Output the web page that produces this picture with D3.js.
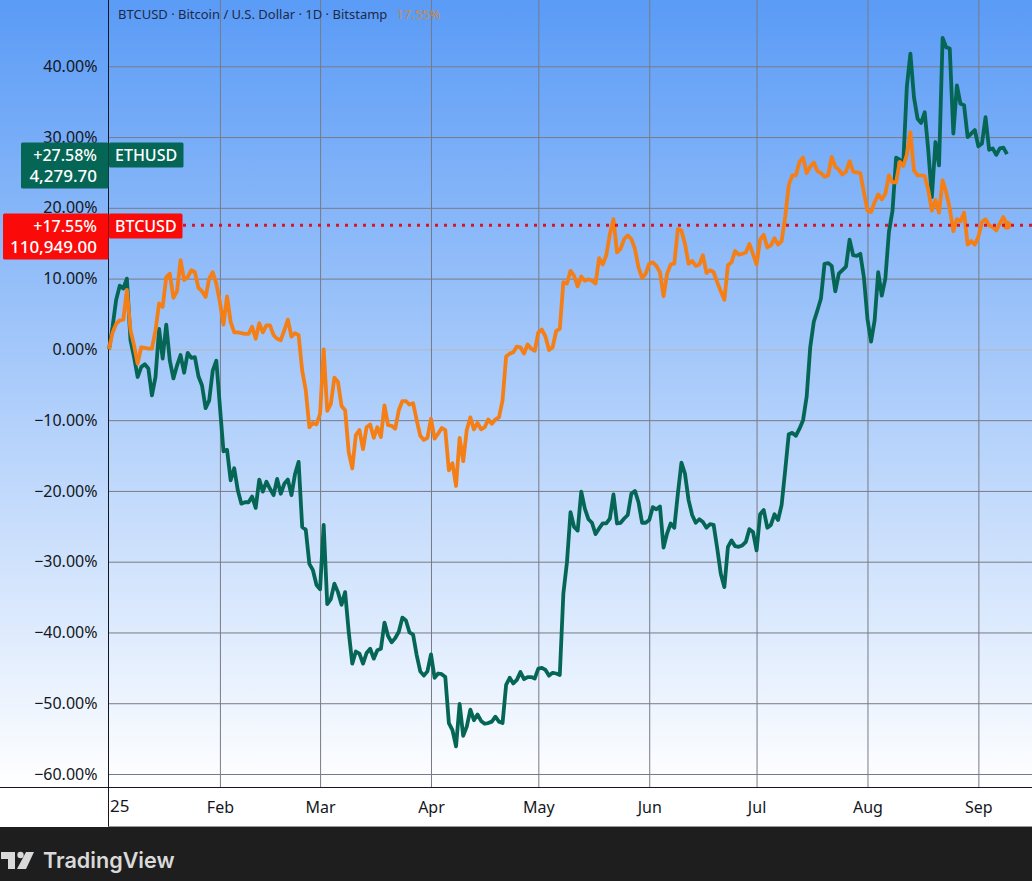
<!DOCTYPE html>
<html>
<head>
<meta charset="utf-8">
<script src="https://cdn.jsdelivr.net/npm/d3@7"></script>
<style>
    html, body { margin: 0; padding: 0; background: #fff; overflow: hidden; }
    svg { display: block; }
    text { font-family: "Noto Sans", sans-serif; }
    .axis text { font-size: 16px; fill: #131722; }
    .axis .domain { display: none; }
</style>
</head>
<body>
<div class="chart"></div>
<script>
/* global d3 */

// daily % change since Jan 1 2025
const btcValues = [
    0, 2.4, 3.6, 4.1, 4.2, 8.4, 2.7, 0.6, -2.0, 0.3, 0.2, 0.1, 0.1, 2.7, 6.5, 6.0, 10.2, 10.7, 7.3, 8.2,
    12.6, 9.8, 10.2, 11.2, 10.9, 8.7, 8.2, 7.4, 10.0, 10.9, 9.3, 6.7, 3.5, 7.5, 3.9, 2.4, 2.4, 2.3, 2.2, 2.2,
    3.2, 1.5, 3.7, 2.4, 3.4, 3.4, 2.0, 1.5, 1.3, 2.7, 4.2, 1.8, 2.3, 2.0, -3.0, -5.8, -11.0, -10.4, -10.6, -9.1,
    0, -8.7, -7.7, -4.0, -4.6, -8.0, -8.6, -14.5, -16.8, -12.1, -11.4, -14.1, -11.0, -10.6, -12.5, -11.0, -12.4, -7.9, -10.7, -10.8,
    -11.2, -8.6, -7.3, -7.3, -7.8, -7.6, -10.0, -12.2, -12.8, -12.5, -9.8, -12.6, -11.9, -11.1, -11.4, -17.1, -16.1, -19.3, -12.5, -15.8,
    -11.4, -9.6, -11.3, -10.4, -11.3, -11.0, -9.9, -10.5, -9.9, -9.6, -7.2, -1.0, -0.6, -0.4, 0.4, 0.3, -0.6, 0.7, 0.1, -0.2,
    2.4, 2.8, 1.8, -0.1, 0.3, 2.6, 2.9, 9.5, 9.3, 11.1, 10.4, 8.9, 10.3, 9.7, 9.9, 9.7, 9.3, 12.9, 12.0, 13.3,
    16.3, 18.4, 13.7, 14.2, 15.6, 16.1, 15.6, 14.2, 11.6, 10.1, 10.7, 12.1, 12.3, 11.8, 10.9, 7.5, 10.7, 12.0, 12.1, 17.0,
    16.8, 14.9, 12.1, 12.5, 11.8, 12.0, 13.3, 10.8, 11.2, 10.9, 9.5, 8.2, 7.0, 11.9, 12.3, 13.9, 13.4, 13.5, 13.7, 14.9,
    13.5, 12.0, 15.5, 16.2, 14.4, 14.7, 15.7, 14.8, 15.3, 18.7, 23.2, 24.6, 24.6, 26.5, 27.1, 24.9, 25.8, 26.4, 25.2, 24.9,
    24.4, 24.6, 27.2, 25.8, 25.4, 24.7, 25.1, 26.6, 25.1, 25.0, 24.9, 22.2, 19.6, 19.4, 20.8, 21.9, 21.2, 22.0, 24.6, 23.6,
    23.6, 26.5, 25.9, 27.5, 30.7, 25.3, 24.6, 24.6, 24.5, 22.5, 19.6, 21.1, 19.3, 23.9, 22.2, 19.9, 16.7, 18.4, 18.1, 19.3,
    14.8, 15.3, 14.8, 15.9, 18.0, 18.4, 17.5, 17.3, 16.8, 17.8, 18.7, 17.55
]

const ethValues = [
    0, 3.2, 7.0, 9.0, 8.6, 10.0, 1.3, -1.1, -3.9, -2.5, -2.1, -2.7, -6.5, -3.9, 2.9, -1.3, 3.5, -1.6, -4.1, -2.3,
    -0.8, -3.3, -0.5, -1.2, -1.1, -3.8, -5.1, -8.3, -7.2, -3.0, -1.6, -8.1, -14.4, -14.2, -18.5, -16.8, -19.9, -21.8, -21.6, -21.6,
    -20.8, -22.4, -18.4, -20.1, -18.7, -19.7, -20.6, -18.3, -20.4, -19.0, -18.4, -20.6, -17.6, -15.9, -25.1, -25.5, -30.3, -31.2, -33.3, -33.9,
    -24.8, -36.0, -35.3, -33.1, -34.3, -36.1, -34.3, -39.9, -44.4, -42.7, -43.0, -44.4, -42.9, -42.3, -43.7, -42.5, -42.3, -38.6, -40.5, -41.4,
    -40.8, -39.9, -37.9, -38.3, -40.0, -40.3, -43.2, -45.5, -46.1, -45.5, -43.1, -46.4, -45.8, -45.9, -46.3, -52.8, -53.8, -56.1, -50.1, -54.6,
    -53.3, -50.9, -52.4, -51.6, -52.5, -52.9, -52.8, -52.6, -51.9, -52.6, -52.8, -47.4, -46.4, -47.2, -46.7, -45.6, -46.6, -46.3, -46.3, -46.5,
    -45.1, -45.0, -45.3, -46.1, -45.7, -45.8, -46.0, -34.5, -30.1, -23.0, -25.1, -25.6, -20.1, -22.5, -24.0, -24.5, -26.1, -25.3, -24.6, -24.6,
    -23.9, -20.5, -24.6, -24.5, -23.9, -23.4, -20.4, -20.0, -21.6, -24.5, -24.5, -24.1, -22.3, -22.6, -22.2, -28.0, -26.0, -24.6, -25.2, -20.4,
    -16.0, -17.6, -21.3, -23.4, -24.5, -24.0, -24.4, -25.2, -24.7, -24.8, -28.1, -31.7, -33.6, -27.9, -27.0, -27.8, -27.9, -27.7, -27.2, -25.4,
    -25.8, -28.4, -23.3, -22.7, -25.2, -24.8, -23.3, -24.1, -22.0, -17.1, -12.0, -11.8, -12.2, -11.2, -10.0, -6.7, 0.3, 3.9, 5.5, 7.2,
    12.1, 12.2, 11.8, 8.2, 10.7, 11.2, 11.7, 15.5, 13.3, 13.2, 13.5, 10.2, 4.3, 1.1, 4.1, 10.9, 7.6, 10.0, 16.6, 19.6,
    27.1, 26.8, 26.2, 37.1, 41.8, 35.6, 32.6, 32.0, 33.5, 28.1, 21.5, 29.3, 26.0, 44.0, 42.7, 42.5, 30.5, 37.3, 34.7, 34.5,
    30.0, 30.5, 31.0, 28.7, 29.1, 32.8, 28.2, 28.4, 27.5, 28.4, 28.5, 27.58
]

const startDate = new Date(2025, 0, 1)
const pctTicks = [40, 30, 20, 10, 0, -10, -20, -30, -40, -50, -60]
const monthStarts = [[2025, 1], [2025, 2], [2025, 3], [2025, 4], [2025, 5], [2025, 6], [2025, 7], [2025, 8]]
const monthLabels = ['Feb', 'Mar', 'Apr', 'May', 'Jun', 'Jul', 'Aug', 'Sep']
const btcLabel = { name: 'BTCUSD', pct: '+17.55%', price: '110,949.00' }
const ethLabel = { name: 'ETHUSD', pct: '+27.58%', price: '4,279.70' }

const green = '#056656'
const orange = '#f57f17'

const width = 1032
const height = 881
const margins = { left: 108.5, bottom: 787.5, footer: 827 }

const svg = d3.select('.chart')
    .append('svg')
    .attr('width', width)
    .attr('height', height)

const defs = svg.append('defs')
const grad = defs.append('linearGradient')
    .attr('id', 'bg')
    .attr('x1', 0).attr('y1', 0).attr('x2', 0).attr('y2', 1)
grad.append('stop').attr('offset', '0%').attr('stop-color', '#5a9bf6')
grad.append('stop').attr('offset', '100%').attr('stop-color', '#ffffff')

svg.append('rect')
    .attr('width', width)
    .attr('height', margins.bottom)
    .attr('fill', 'url(#bg)')

// scales
const toDates = values => values.map((v, i) => ({ date: d3.timeDay.offset(startDate, i), value: v }))
const btcData = toDates(btcValues)
const ethData = toDates(ethValues)

const xScale = d3.scaleTime()
    .domain([startDate, new Date(2025, 8, 9)])
    .range([109, 1007])

const yScale = d3.scaleLinear()
    .domain([-60, 40])
    .range([774, 66.3])

// y axis and grid
const yAxis = svg.append('g')
    .attr('class', 'axis axis__y')
    .attr('transform', `translate(${margins.left}, 0)`)
    .call(
        d3.axisLeft(yScale)
        .tickValues(pctTicks)
        .tickSize(-(width - margins.left))
        .tickPadding(11)
        .tickFormat(d => `${d < 0 ? '\u2212' + Math.abs(d) : d}.00%`)
    )
yAxis.selectAll('.tick line')
    .attr('stroke', d => d === 0 ? '#b4b7c0' : '#787b86')
    .attr('stroke-width', 1)

// x axis and grid
const monthDates = monthStarts.map(d => new Date(d[0], d[1], 1))
const xAxis = svg.append('g')
    .attr('class', 'axis axis__x')
    .attr('transform', `translate(0, ${margins.bottom})`)
    .call(
        d3.axisBottom(xScale)
        .tickValues(monthDates)
        .tickSize(-margins.bottom)
        .tickPadding(12)
        .tickFormat((d, i) => monthLabels[i])
    )
xAxis.selectAll('.tick line')
    .attr('stroke', '#787b86')
    .attr('stroke-width', 1)
xAxis.selectAll('.tick text').attr('dy', '0.85em')

svg.append('text')
    .attr('x', 110)
    .attr('y', 812)
    .attr('font-size', 17)
    .attr('fill', '#131722')
    .text('25')

// chart frame
svg.append('line')
    .attr('x1', 0).attr('x2', width)
    .attr('y1', margins.bottom).attr('y2', margins.bottom)
    .attr('stroke', '#131722')
svg.append('line')
    .attr('x1', margins.left).attr('x2', margins.left)
    .attr('y1', 0).attr('y2', margins.footer)
    .attr('stroke', '#131722')
    .attr('stroke-width', 1)

// series
const line = d3.line()
    .x(d => xScale(d.date))
    .y(d => yScale(d.value))

svg.append('path')
    .datum(ethData)
    .attr('class', 'ethLine')
    .attr('d', line)
    .attr('fill', 'none')
    .attr('stroke', green)
    .attr('stroke-width', 3.8)
    .attr('stroke-linejoin', 'round')

svg.append('path')
    .datum(btcData)
    .attr('class', 'btcLine')
    .attr('d', line)
    .attr('fill', 'none')
    .attr('stroke', orange)
    .attr('stroke-width', 3.8)
    .attr('stroke-linejoin', 'round')

// last value dot and dotted price line
const lastBtc = btcData[btcData.length - 1]
svg.append('circle')
    .attr('cx', xScale(lastBtc.date))
    .attr('cy', yScale(lastBtc.value))
    .attr('r', 4.5)
    .attr('fill', orange)

svg.append('line')
    .attr('x1', 183).attr('x2', width)
    .attr('y1', yScale(lastBtc.value)).attr('y2', yScale(lastBtc.value))
    .attr('stroke', '#d5152b')
    .attr('stroke-width', 3)
    .attr('stroke-dasharray', '3 6')

// legend line at the top
const legend = svg.append('text')
    .attr('x', 118)
    .attr('y', 19)
    .attr('font-size', 13)
    .attr('fill', '#1c2a4a')
legend.append('tspan').text('BTCUSD \u00b7 Bitcoin / U.S. Dollar \u00b7 1D \u00b7 Bitstamp')
legend.append('tspan').attr('dx', 9).attr('fill', '#c98a4a').text('17.55%')

// price scale labels
const drawLabel = function(label, value, color, leftX, nameRight) {
    const cy = Math.round(yScale(value)) + 1
    const top = cy - 12.5
    const g = svg.append('g')
    g.append('rect')
        .attr('x', leftX).attr('y', top)
        .attr('width', margins.left - leftX).attr('height', 46)
        .attr('rx', 1.5)
        .attr('fill', color)
    g.append('rect')
        .attr('x', margins.left + 0.5).attr('y', top)
        .attr('width', nameRight - margins.left).attr('height', 25)
        .attr('rx', 1.5)
        .attr('fill', color)
    g.selectAll('text.val')
        .data([label.pct, label.price])
        .join('text')
        .attr('class', 'val')
        .attr('x', 97)
        .attr('y', (d, i) => top + 18 + i * 21)
        .attr('text-anchor', 'end')
        .attr('font-size', (d, i) => i ? 17 : 16)
        .attr('font-weight', 500)
        .attr('fill', '#fff')
        .text(d => d)
    g.append('text')
        .attr('x', 115)
        .attr('y', top + 18)
        .attr('font-size', 16)
        .attr('font-weight', 500)
        .attr('fill', '#fff')
        .text(label.name)
}
drawLabel(ethLabel, ethValues[ethValues.length - 1], green, 21, 183)
drawLabel(btcLabel, btcValues[btcValues.length - 1], '#fb0a0a', 3, 182)

// footer
svg.append('rect')
    .attr('y', margins.footer)
    .attr('width', width)
    .attr('height', height - margins.footer)
    .attr('fill', '#1e1e1e')
svg.append('line')
    .attr('x1', margins.left).attr('x2', width)
    .attr('y1', margins.footer - 0.5).attr('y2', margins.footer - 0.5)
    .attr('stroke', '#9a9a9a')

const logo = svg.append('g').attr('fill', '#d9d9d9')
logo.append('path').attr('d', 'M1 852H15V869H8V859H1Z')
logo.append('circle').attr('cx', 20.5).attr('cy', 855).attr('r', 3.2)
logo.append('path').attr('d', 'M26 852H34L26 869H17Z')
svg.append('text')
    .attr('x', 43)
    .attr('y', 868)
    .attr('font-size', 21.6)
    .attr('font-weight', 600)
    .attr('fill', '#d9d9d9')
    .style('font-family', 'Inter, sans-serif')
    .text('TradingView')
</script>
</body>
</html>
